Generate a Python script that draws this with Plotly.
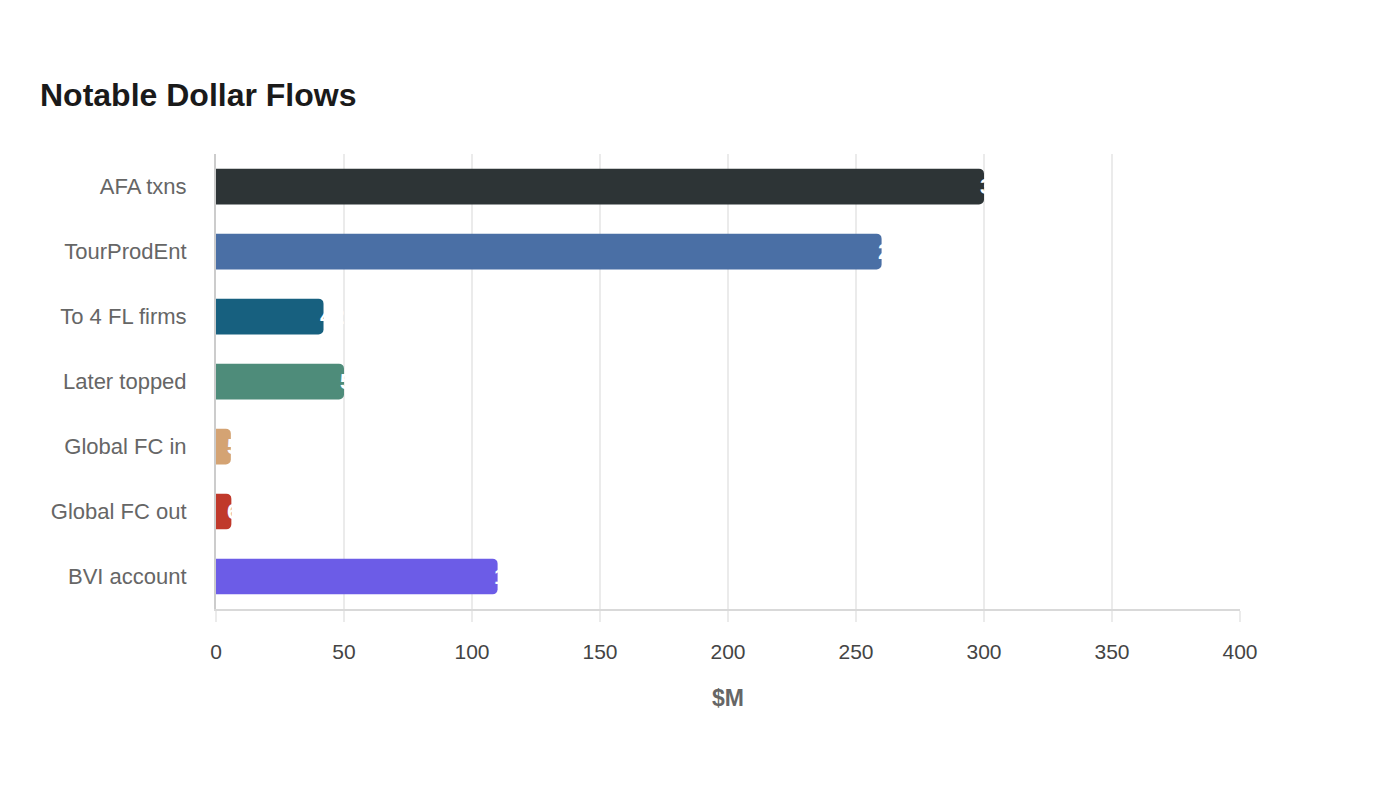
import plotly.graph_objects as go

categories = ["AFA txns", "TourProdEnt", "To 4 FL firms", "Later topped", "Global FC in", "Global FC out", "BVI account"]
values = [300, 260, 42, 50, 5.8, 6, 110]
colors = ["#2d3436", "#4a6fa5", "#17607f", "#4e8c7a", "#d4a373", "#c0392b", "#6c5ce7"]
value_labels = ["300", "260", "42", "50", "5.8", "6", "110"]
x_ticks = [0, 50, 100, 150, 200, 250, 300, 350, 400]

fig = go.Figure()
fig.add_trace(go.Bar(
    y=categories, x=values, orientation="h",
    marker=dict(color=colors, cornerradius=5, line=dict(width=0)),
    width=0.55, hoverinfo="x+y", showlegend=False,
))

for c, v, t in zip(categories, values, value_labels):
    fig.add_annotation(x=v, y=c, text="<b>%s</b>" % t, showarrow=False,
                       xanchor="left", xshift=-6, yanchor="middle",
                       font=dict(color="white", size=22, family="Liberation Sans, Arial, sans-serif"))

fig.update_layout(
    width=1400, height=800,
    paper_bgcolor="white", plot_bgcolor="white",
    margin=dict(l=216, r=160, t=154, b=191),
    font=dict(family="Liberation Sans, Arial, sans-serif", color="#555555"),
    title=dict(text="<b>Notable Dollar Flows</b>", x=40/1400, xanchor="left",
               y=1-95/800, yanchor="middle",
               font=dict(size=32, color="#1a1a1a")),
    xaxis=dict(range=[0, 400], tickvals=x_ticks, showgrid=True, gridcolor="#ebebeb", gridwidth=1.5,
               zeroline=False, showline=True, linecolor="#d9d9d9", linewidth=2,
               ticks="outside", ticklen=11, tickcolor="#ebebeb", tickwidth=1.5,
               ticklabelstandoff=12,
               tickfont=dict(size=21, color="#444444"),
               title=dict(text="<b>$M</b>", font=dict(size=23, color="#666666"), standoff=28)),
    yaxis=dict(categoryorder="array", categoryarray=categories, autorange="reversed",
               showgrid=False, showline=True, linecolor="#cccccc", linewidth=2,
               ticks="", ticklabelstandoff=23,
               tickfont=dict(size=22, color="#666666")),
)

fig.write_html("out.html")
